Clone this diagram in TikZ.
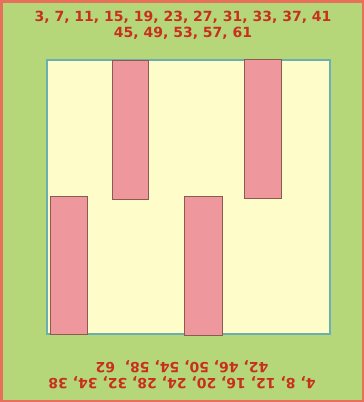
\documentclass[tikz,border=0pt]{standalone}
\usepackage{fontspec}
\setmainfont{DejaVu Sans}
\definecolor{grass}{HTML}{B5D77A}
\definecolor{rim}{HTML}{E8705A}
\definecolor{cream}{HTML}{FEFCC8}
\definecolor{pool}{HTML}{6AB0B0}
\definecolor{bar}{HTML}{EE979C}
\definecolor{barline}{HTML}{8C5A50}
\definecolor{numred}{HTML}{C8301E}
\tikzset{
  pillar/.style={fill=bar,draw=barline,line width=0.8pt},
  numbers/.style={text=numred,font=\fontsize{14}{16}\selectfont\bfseries,align=center}
}

\begin{document}
\begin{tikzpicture}[x=1pt,y=-1pt]
  \useasboundingbox (0,0) rectangle (364,402);
  \draw[fill=grass,draw=rim,line width=2.5pt] (1.25,1.25) rectangle (362.75,400.75);
  \draw[fill=cream,draw=pool,line width=1.5pt] (47,60) rectangle (330,334);
  % upper bars
  \draw[pillar] (112,60) rectangle (148,199);
  \draw[pillar] (244,59) rectangle (281,198);
  % lower bars
  \draw[pillar] (50,196) rectangle (87,334);
  \draw[pillar] (184,196) rectangle (222,335);
  \node[numbers] (odd) at (183,25) {3, 7, 11, 15, 19, 23, 27, 31, 33, 37, 41\\45, 49, 53, 57, 61};
  \node[numbers,rotate=180] (even) at (182,375) {4, 8, 12, 16, 20, 24, 28, 32, 34, 38\\42, 46, 50, 54, 58,\ \ 62};
\end{tikzpicture}
\end{document}
